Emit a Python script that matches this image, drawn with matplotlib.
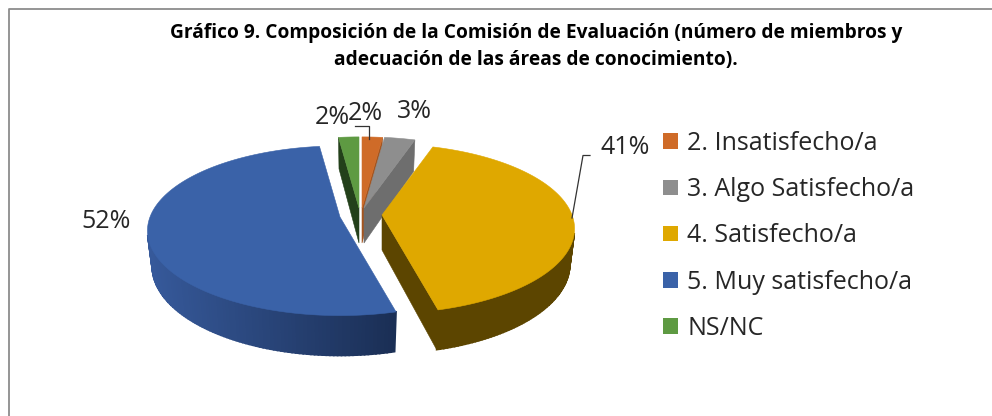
import numpy as np
import matplotlib
matplotlib.use("Agg")
import matplotlib.pyplot as plt
from matplotlib.colors import to_rgb
from matplotlib.patches import Patch

# --- datos
labels = ["2. Insatisfecho/a", "3. Algo Satisfecho/a", "4. Satisfecho/a", "5. Muy satisfecho/a", "NS/NC"]
values = [2, 3, 41, 52, 2]
title_lines = ["Gráfico 9. Composición de la Comisión de Evaluación (número de miembros y",
               "adecuación de las áreas de conocimiento)."]

# --- estilo
colors = ["#CF6B28", "#8E8E8E", "#DFA800", "#3A62A8", "#5E9A42"]
side_left = ["#A5551F", "#6E6E6E", "#5C4500", "#36599A", "#23401A"]
side_right = ["#A5551F", "#6E6E6E", "#5C4500", "#1A2E54", "#23401A"]
tips = [(362, 208), (364, 208), (382, 215), (340, 217), (359, 208)]
draw_order = [4, 0, 1, 3, 2]
label_pos = [(365, 113), (414, 112), (625, 147), (106, 221), (332, 117)]

RX, RY, K = 190, 82.6, 0.162
DEPTH = 35


def top_offset(a):
    u, v = np.sin(a), np.cos(a)
    s = 1 / (1 + K * v)
    return RX * u * s, -RY * v * s


def blend(c1, c2, t):
    c1, c2 = np.array(to_rgb(c1)), np.array(to_rgb(c2))
    return tuple(c1 + (c2 - c1) * t)


def face(ax, quad, color, zorder, lw=0.4):
    # solo las caras que miran a la camara
    x, y = zip(*quad)
    area = sum(x[i] * y[(i + 1) % 4] - x[(i + 1) % 4] * y[i] for i in range(4))
    if area < 0:
        ax.fill(x, y, color=color, lw=lw, zorder=zorder)


fig = plt.figure(figsize=(9.92, 4.16), dpi=100)
ax = fig.add_axes([0, 0, 1, 1])
ax.set_xlim(0, 992)
ax.set_ylim(416, 0)
ax.axis("off")

# marco
ax.plot([9, 9, 992], [416, 9, 9], color="#8C8C8C", lw=1.3)

fractions = np.cumsum([0] + values) / sum(values) * 2 * np.pi
z = 2
for i in draw_order:
    tx, ty = tips[i]
    angles = np.linspace(fractions[i], fractions[i + 1], max(int(values[i] * 3.6), 2) + 1)
    dx, dy = top_offset(angles)
    top_x, top_y = tx + dx, ty + dy
    bot_x, bot_y = tx + dx * 0.975, ty + DEPTH + dy * 1.05

    # caras radiales
    face(ax, [(tx, ty), (top_x[0], top_y[0]), (bot_x[0], bot_y[0]), (tx, ty + DEPTH)], side_right[i], z)
    face(ax, [(top_x[-1], top_y[-1]), (tx, ty), (tx, ty + DEPTH), (bot_x[-1], bot_y[-1])], side_right[i], z)

    # pared exterior, con degradado de izquierda a derecha
    for j in range(len(angles) - 1):
        t = np.clip((top_x[j] - tx + RX) / (RX + 60), 0, 1)
        face(ax, [(top_x[j], top_y[j]), (top_x[j + 1], top_y[j + 1]),
                  (bot_x[j + 1], bot_y[j + 1]), (bot_x[j], bot_y[j])],
             blend(side_left[i], side_right[i], t), z, lw=1.2)

    # cara superior
    ax.fill(np.r_[tx, top_x], np.r_[ty, top_y], color=colors[i], lw=0.4, zorder=z + 0.5)
    z += 1

# lineas guia
ax.plot([355, 369, 369], [126, 126, 139], color="#333333", lw=0.9, zorder=20)
ax.plot([590, 583, 572], [155.5, 155.5, 218], color="#333333", lw=0.9, zorder=20)

# etiquetas
for v, (x, y) in zip(values, label_pos):
    ax.text(x, y, f"{v}%", fontsize=18, family="Open Sans", color="#262626",
            ha="center", va="center", zorder=21)

for k, line in enumerate(title_lines):
    ax.text(536, 33 + k * 27, line, fontsize=13.8, family="Open Sans", fontweight="bold",
            color="black", ha="center", va="center")

handles = [Patch(facecolor=c, edgecolor="none", label=l) for c, l in zip(colors, labels)]
ax.legend(handles=handles, loc="upper left", bbox_to_anchor=(663, 131), bbox_transform=ax.transData,
          frameon=False, prop={"family": "Open Sans", "size": 18}, labelcolor="#262626",
          handlelength=0.58, handleheight=0.58, handletextpad=0.38, labelspacing=0.85,
          borderpad=0, borderaxespad=0)

fig.savefig("out.png", dpi=100)
